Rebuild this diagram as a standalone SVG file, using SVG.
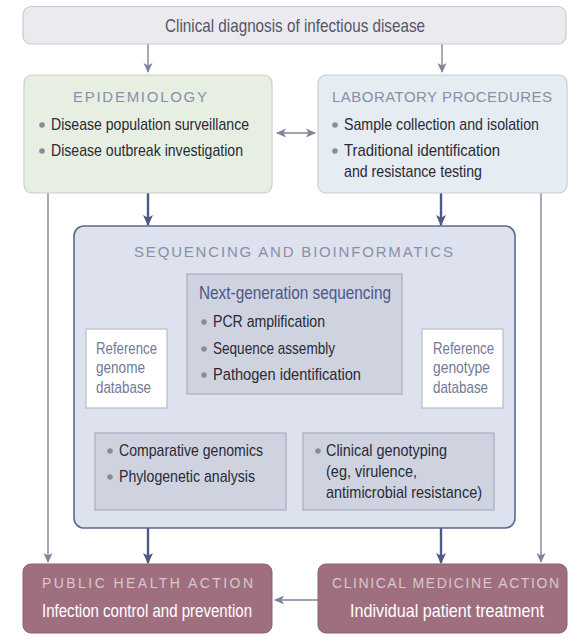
<svg xmlns="http://www.w3.org/2000/svg" width="577" height="639" viewBox="0 0 577 639">
<defs>
<marker id="ag" viewBox="0 0 10 10" refX="9" refY="5" markerWidth="10" markerHeight="10" markerUnits="userSpaceOnUse" orient="auto-start-reverse"><path d="M0,0.5 L10,5 L0,9.5 L2.5,5 Z" fill="#80849a"/></marker>
<marker id="ad" viewBox="0 0 10 10" refX="9" refY="5" markerWidth="11" markerHeight="11" markerUnits="userSpaceOnUse" orient="auto"><path d="M0,0.5 L10,5 L0,9.5 L2.5,5 Z" fill="#4e5a82"/></marker>
</defs>
<style>
text{font-family:"Liberation Sans",Arial,sans-serif}
.body{font-size:17px;fill:#2a2a36}
.body16{font-size:17px;fill:#2a2a36}
.ttl{font-size:15px;fill:#8a8fa8}
.ref{font-size:17px;fill:#737996}
.bul{fill:#8a8c9c}
.thin{stroke:#80849a;stroke-width:1.4;fill:none}
.dark{stroke:#4e5a82;stroke-width:2.4;fill:none}
.inner{fill:#cfd3e0;stroke:#a8adc0;stroke-width:1.2}
.act{fill:#a06f7f;stroke:#8d6070;stroke-width:1}
</style>
<rect width="577" height="639" fill="#ffffff"/>

<g id="connectors">
<path class="thin" d="M148,44 V72" marker-end="url(#ag)"/>
<path class="thin" d="M442,44 V72" marker-end="url(#ag)"/>
<path class="thin" d="M277,133 H315" marker-start="url(#ag)" marker-end="url(#ag)"/>
<path class="dark" d="M148,193 V225" marker-end="url(#ad)"/>
<path class="dark" d="M441,193 V225" marker-end="url(#ad)"/>
<path class="thin" d="M48,193 V562" marker-end="url(#ag)"/>
<path class="thin" d="M541,193 V562" marker-end="url(#ag)"/>
<path class="thin" d="M295,394 V408 M196,408 H393"/>
<path class="thin" d="M196,408 V431" marker-end="url(#ag)"/>
<path class="thin" d="M393,408 V431" marker-end="url(#ag)"/>
<path class="thin" d="M126,408 V431" marker-end="url(#ag)"/>
<path class="thin" d="M462,408 V431" marker-end="url(#ag)"/>
<path class="dark" d="M148,528 V563" marker-end="url(#ad)"/>
<path class="dark" d="M441,528 V563" marker-end="url(#ad)"/>
<path class="thin" d="M318,600 H275" marker-end="url(#ag)"/>
</g>

<g id="clinical-diagnosis">
<rect x="23" y="6.5" width="543" height="37.5" rx="8" fill="#ebebef" stroke="#c9c9d3" stroke-width="1.2"/>
<text x="165" y="32" font-size="19" fill="#55556a" textLength="260" lengthAdjust="spacingAndGlyphs">Clinical diagnosis of infectious disease</text>
</g>

<g id="epidemiology">
<rect x="24" y="75" width="248" height="118" rx="8" fill="#e7efe2" stroke="#c9d1c5" stroke-width="1.2"/>
<text class="ttl" x="73" y="102" textLength="134" lengthAdjust="spacing">EPIDEMIOLOGY</text>
<circle class="bul" cx="42" cy="125" r="2.8"/>
<text class="body" x="51" y="130" textLength="198" lengthAdjust="spacingAndGlyphs">Disease population surveillance</text>
<circle class="bul" cx="42" cy="151" r="2.8"/>
<text class="body" x="51" y="156" textLength="192" lengthAdjust="spacingAndGlyphs">Disease outbreak investigation</text>
</g>

<g id="laboratory">
<rect x="318" y="75" width="249" height="118" rx="8" fill="#e5ecf2" stroke="#c6cdd8" stroke-width="1.2"/>
<text class="ttl" x="332" y="102" textLength="220" lengthAdjust="spacing">LABORATORY PROCEDURES</text>
<circle class="bul" cx="335" cy="125" r="2.8"/>
<text class="body" x="344" y="130" textLength="195" lengthAdjust="spacingAndGlyphs">Sample collection and isolation</text>
<circle class="bul" cx="335" cy="151" r="2.8"/>
<text class="body" x="344" y="156" textLength="156" lengthAdjust="spacingAndGlyphs">Traditional identification</text>
<text class="body" x="344" y="177" textLength="138" lengthAdjust="spacingAndGlyphs">and resistance testing</text>
</g>

<g id="sequencing">
<rect x="74" y="226" width="441" height="302" rx="10" fill="#dde2ee" stroke="#5c6a8e" stroke-width="1.6"/>
<text class="ttl" x="134" y="257" textLength="319" lengthAdjust="spacing" fill="#6e7590">SEQUENCING AND BIOINFORMATICS</text>
</g>

<g id="ngs">
<rect class="inner" x="187" y="274" width="215" height="120"/>
<text x="199" y="299" font-size="19" fill="#4b5888" textLength="192" lengthAdjust="spacingAndGlyphs">Next-generation sequencing</text>
<circle class="bul" cx="204" cy="322" r="2.8" fill="#5a648a"/>
<text class="body16" x="213" y="327" textLength="112" lengthAdjust="spacingAndGlyphs">PCR amplification</text>
<circle class="bul" cx="204" cy="349" r="2.8" fill="#5a648a"/>
<text class="body16" x="213" y="354" textLength="122" lengthAdjust="spacingAndGlyphs">Sequence assembly</text>
<circle class="bul" cx="204" cy="375" r="2.8" fill="#5a648a"/>
<text class="body16" x="213" y="380" textLength="148" lengthAdjust="spacingAndGlyphs">Pathogen identification</text>
</g>

<g id="ref-genome">
<rect x="86" y="329" width="81" height="79" fill="#ffffff" stroke="#b9bdcc" stroke-width="1.2"/>
<text class="ref" x="96" y="354" textLength="61" lengthAdjust="spacingAndGlyphs">Reference</text>
<text class="ref" x="96" y="373" textLength="49" lengthAdjust="spacingAndGlyphs">genome</text>
<text class="ref" x="96" y="393" textLength="55" lengthAdjust="spacingAndGlyphs">database</text>
</g>

<g id="ref-genotype">
<rect x="422" y="329" width="81" height="79" fill="#ffffff" stroke="#b9bdcc" stroke-width="1.2"/>
<text class="ref" x="433" y="354" textLength="61" lengthAdjust="spacingAndGlyphs">Reference</text>
<text class="ref" x="433" y="373" textLength="57" lengthAdjust="spacingAndGlyphs">genotype</text>
<text class="ref" x="433" y="393" textLength="55" lengthAdjust="spacingAndGlyphs">database</text>
</g>

<g id="comparative">
<rect class="inner" x="95" y="433" width="191" height="77"/>
<circle class="bul" cx="110" cy="451" r="2.8" fill="#5a648a"/>
<text class="body16" x="119" y="456" textLength="144" lengthAdjust="spacingAndGlyphs">Comparative genomics</text>
<circle class="bul" cx="110" cy="477" r="2.8" fill="#5a648a"/>
<text class="body16" x="119" y="482" textLength="136" lengthAdjust="spacingAndGlyphs">Phylogenetic analysis</text>
</g>

<g id="genotyping">
<rect class="inner" x="303" y="433" width="191" height="77"/>
<circle class="bul" cx="318" cy="451" r="2.8" fill="#5a648a"/>
<text class="body16" x="326" y="456" textLength="121" lengthAdjust="spacingAndGlyphs">Clinical genotyping</text>
<text class="body16" x="326" y="477" textLength="91" lengthAdjust="spacingAndGlyphs">(eg, virulence,</text>
<text class="body16" x="326" y="498" textLength="156" lengthAdjust="spacingAndGlyphs">antimicrobial resistance)</text>
</g>

<g id="public-health">
<rect class="act" x="23" y="564" width="249" height="69" rx="8"/>
<text x="42" y="588" font-size="14" fill="#d9c8cf" textLength="211" lengthAdjust="spacing">PUBLIC HEALTH ACTION</text>
<text x="42" y="617" font-size="19" fill="#ffffff" textLength="210" lengthAdjust="spacingAndGlyphs">Infection control and prevention</text>
</g>

<g id="clinical-medicine">
<rect class="act" x="318" y="564" width="249" height="69" rx="8"/>
<text x="332" y="588" font-size="14" fill="#d9c8cf" textLength="227" lengthAdjust="spacing">CLINICAL MEDICINE ACTION</text>
<text x="350" y="617" font-size="19" fill="#ffffff" textLength="194" lengthAdjust="spacingAndGlyphs">Individual patient treatment</text>
</g>
</svg>
